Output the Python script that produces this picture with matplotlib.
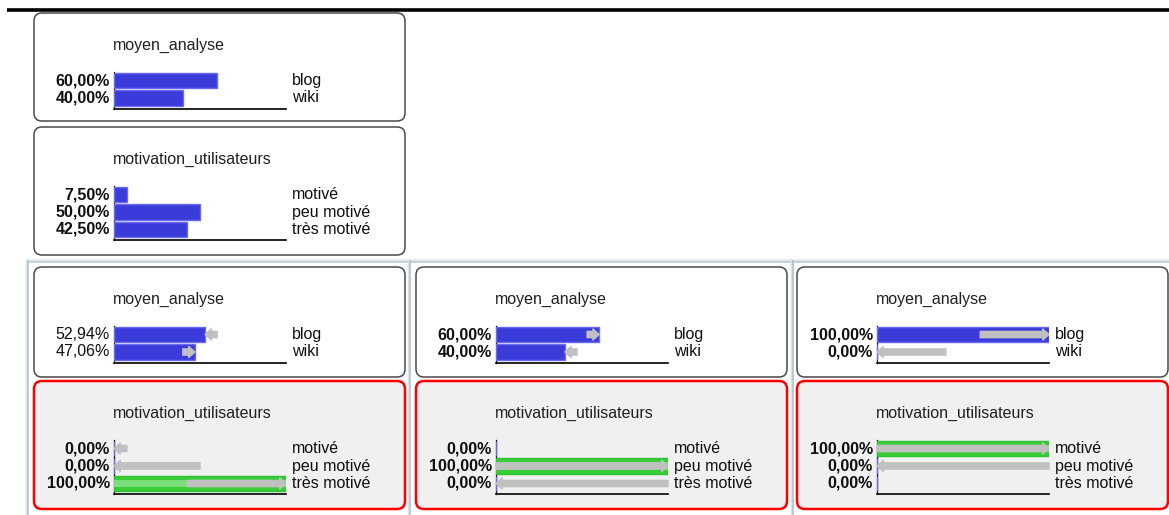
import matplotlib.pyplot as plt
from matplotlib.patches import FancyBboxPatch

plt.rcParams['font.family'] = ['Liberation Sans', 'DejaVu Sans']

# données du réseau bayésien
etats_analyse = ['blog', 'wiki']
etats_motivation = ['motivé', 'peu motivé', 'très motivé']

init_analyse = [60.00, 40.00]
init_motivation = [7.50, 50.00, 42.50]

# trois scénarios (observation sur motivation_utilisateurs)
scen_analyse = [[52.94, 47.06], [60.00, 40.00], [100.00, 0.00]]
scen_motivation = [[0.00, 0.00, 100.00], [0.00, 100.00, 0.00], [100.00, 0.00, 0.00]]
scen_observe = [2, 1, 0]
scen_gras = [False, True, True]

W, H = 1169, 515
fig = plt.figure(figsize=(W / 100, H / 100), dpi=100)
bg = fig.add_axes([0, 0, 1, 1])
bg.set_xlim(0, W)
bg.set_ylim(H, 0)
bg.axis('off')

FS = 11.5
PAS = 17.5


def px_axes(x, y, w, h):
    return fig.add_axes([x / W, 1 - (y + h) / H, w / W, h / H])


def pct(v):
    return f'{v:.2f}'.replace('.', ',') + '%'


def moniteur(x0, y0, y1, nom, etats, valeurs, avant=None, observe=None, gras=True, preuve=False):
    box = FancyBboxPatch((x0, y0), 371, y1 - y0, boxstyle='round,pad=0,rounding_size=8',
                         facecolor='#f0f0f0' if preuve else 'white',
                         edgecolor='#ff0000' if preuve else '#4a4a4a',
                         lw=1.8 if preuve else 1.1)
    bg.add_patch(box)
    bg.text(x0 + 79, y0 + 32, nom, va='center', ha='left', fontsize=FS, color='#202020')

    n = len(etats)
    c0 = y0 + 67.5
    ax = px_axes(x0 + 80, c0 - PAS / 2, 172, (n + 0.1) * PAS)
    ax.set_xlim(0, 100)
    ax.set_ylim(n - 0.4, -0.5)
    ax.patch.set_visible(False)
    for s in ['top', 'right']:
        ax.spines[s].set_visible(False)
    ax.spines['left'].set_zorder(0.5)
    ax.spines['left'].set_linewidth(0.9)
    ax.spines['bottom'].set_linewidth(1.2)
    ax.set_xticks([])
    ax.set_yticks([])

    rangs = list(range(n))
    couleurs = ['#38cc38' if (observe is not None and i == observe) else '#3b3bda' for i in rangs]
    bords = ['#2fc22f' if (observe is not None and i == observe) else '#6a6af0' for i in rangs]
    ax.barh(rangs, valeurs, height=0.86, color=couleurs, edgecolor=bords, lw=1)
    if observe is not None:
        ax.barh([observe], [valeurs[observe]], height=0.45, color='#7ade7a', lw=0)

    if avant is not None:
        for i in rangs:
            if abs(avant[i] - valeurs[i]) > 0.01:
                ax.annotate('', xy=(valeurs[i], i), xytext=(avant[i], i),
                            arrowprops=dict(arrowstyle='simple,head_length=0.45,head_width=0.8,tail_width=0.45',
                                            color='#c0c0c0', shrinkA=0, shrinkB=0, mutation_scale=10),
                            annotation_clip=False)

    for i in rangs:
        ax.annotate(pct(valeurs[i]), xy=(0, i), xytext=(-3, 0), textcoords='offset points',
                    ha='right', va='center', fontsize=FS, fontweight='bold' if gras else 'normal',
                    color='#101010', annotation_clip=False)
        ax.annotate(etats[i], xy=(100, i), xytext=(4.5, 0), textcoords='offset points',
                    ha='left', va='center', fontsize=FS, color='#101010', annotation_clip=False)


# trait noir du haut
bg.plot([7, W], [10, 10], color='black', lw=2.6, solid_capstyle='butt')

# état initial
moniteur(34, 13, 121, 'moyen_analyse', etats_analyse, init_analyse)
moniteur(34, 127, 255, 'motivation_utilisateurs', etats_motivation, init_motivation)

# cadre des trois scénarios
bg.plot([27, W], [259.5, 259.5], color='#e4e9ee', lw=2)
bg.plot([27, W], [261.5, 261.5], color='#b4c6d8', lw=1.1)
for xv in [27.5, 409.5, 792.5]:
    bg.plot([xv - 1.5, xv - 1.5], [261, H], color='#e0e0e0', lw=1)
    bg.plot([xv, xv], [261, H], color='#a9bdd2', lw=1.1)

cols = [34, 416, 797]
prec_analyse = [init_analyse] + scen_analyse[:-1]
prec_motivation = [init_motivation] + scen_motivation[:-1]
for k, x0 in enumerate(cols):
    moniteur(x0, 267, 377, 'moyen_analyse', etats_analyse, scen_analyse[k],
             avant=prec_analyse[k], gras=scen_gras[k])
    moniteur(x0, 381, 509, 'motivation_utilisateurs', etats_motivation, scen_motivation[k],
             avant=prec_motivation[k], observe=scen_observe[k], preuve=True)

fig.savefig('out.png', dpi=100)
